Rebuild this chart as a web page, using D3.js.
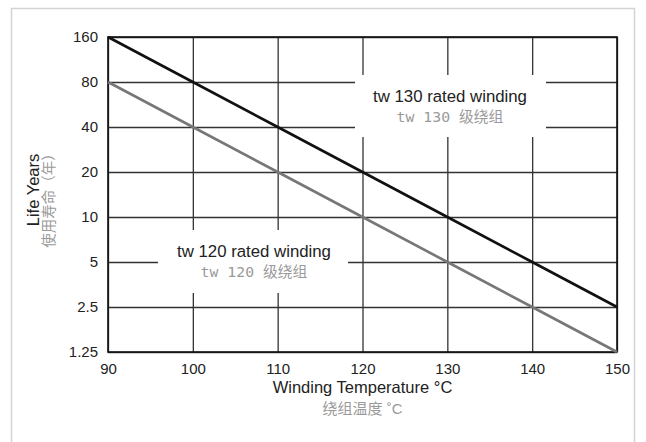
<!DOCTYPE html>
<html><head><meta charset="utf-8">
<script src="https://cdn.jsdelivr.net/npm/d3@7"></script>
<style>
html,body{margin:0;padding:0;background:#fff;}
svg{display:block;}
</style></head>
<body>
<svg id="chart" width="646" height="442"></svg>
<script>
// ---- data ----
const temperatures = [90, 100, 110, 120, 130, 140, 150];
const lifeTicks = [1.25, 2.5, 5, 10, 20, 40, 80, 160];
const lifeTickLabels = ["1.25", "2.5", "5", "10", "20", "40", "80", "160"];
const life130 = [160, 80, 40, 20, 10, 5, 2.5];
const life120 = [80, 40, 20, 10, 5, 2.5, 1.25];
const seriesNames = ["tw 130 rated winding", "tw 120 rated winding"];
const seriesNamesZh = ["tw 130 级绕组", "tw 120 级绕组"];
const xTitle = "Winding Temperature °C";
const xTitleZh = "绕组温度 ˚C";
const yTitle = "Life Years";
const yTitleZh = "使用寿命（年）";

const svg = d3.select("#chart");
const plot = {left: 108, right: 617, top: 37, bottom: 352};

const x = d3.scaleLinear().domain([90, 150]).range([plot.left, plot.right]);
const y = d3.scaleLog().base(2).domain([1.25, 160]).range([plot.bottom, plot.top]);

const sans = "'Liberation Sans', Arial, Helvetica, sans-serif";
const zh = "'DejaVu Sans Mono', 'Noto Sans CJK SC', monospace";
const zhSans = "'Liberation Sans', 'Noto Sans CJK SC', sans-serif";
const cjk = "'Noto Sans CJK SC', sans-serif";

// outer border
svg.append("rect").attr("x", 11.5).attr("y", 8.5).attr("width", 623).attr("height", 460)
  .attr("fill", "#fff").attr("stroke", "#d4d4d4").attr("stroke-width", 1.5);

// grid via axes
const gx = svg.append("g").attr("transform", `translate(0,${plot.bottom})`)
  .call(d3.axisBottom(x).tickValues(temperatures).tickSize(-(plot.bottom - plot.top)).tickPadding(10).tickFormat(d3.format("d")));
gx.select(".domain").remove();
gx.selectAll(".tick line").attr("stroke", "#333").attr("stroke-width", 1.3);
gx.selectAll(".tick text").attr("font-family", sans).attr("font-size", 15).attr("fill", "#222").attr("dy", "0.8em");

const gy = svg.append("g").attr("transform", `translate(${plot.left},0)`)
  .call(d3.axisLeft(y).tickValues(lifeTicks).tickSize(-(plot.right - plot.left)).tickPadding(10)
    .tickFormat((d, i) => lifeTickLabels[i]));
gy.select(".domain").remove();
gy.selectAll(".tick line").attr("stroke", "#333").attr("stroke-width", 1.3);
gy.selectAll(".tick text").attr("font-family", sans).attr("font-size", 15).attr("fill", "#222");

// white label boxes (mask gridlines)
svg.append("rect").attr("x", 355).attr("y", 75).attr("width", 191).attr("height", 62).attr("fill", "#fff");
svg.append("rect").attr("x", 158).attr("y", 230).attr("width", 190).attr("height", 63).attr("fill", "#fff");

// plot frame
svg.append("rect").attr("x", plot.left).attr("y", plot.top)
  .attr("width", plot.right - plot.left).attr("height", plot.bottom - plot.top)
  .attr("fill", "none").attr("stroke", "#111").attr("stroke-width", 1.6);

// series lines
const line = d3.line().x(d => x(d[0])).y(d => y(d[1]));
svg.append("path").datum(temperatures.map((t, i) => [t, life120[i]]))
  .attr("d", line).attr("fill", "none").attr("stroke", "#777").attr("stroke-width", 2.6);
svg.append("path").datum(temperatures.map((t, i) => [t, life130[i]]))
  .attr("d", line).attr("fill", "none").attr("stroke", "#111").attr("stroke-width", 2.6);

// series labels
function label(cx, by, en, zhTxt) {
  svg.append("text").attr("x", cx).attr("y", by).attr("text-anchor", "middle")
    .attr("font-family", sans).attr("font-size", 16.8).attr("fill", "#222").text(en);
  svg.append("text").attr("x", cx).attr("y", by + 20).attr("text-anchor", "middle")
    .attr("font-family", zh).attr("font-size", 14.8).attr("fill", "#9a9a9a").text(zhTxt);
}
label(450, 102, seriesNames[0], seriesNamesZh[0]);
label(254, 257, seriesNames[1], seriesNamesZh[1]);

// axis titles
const xc = (plot.left + plot.right) / 2;
svg.append("text").attr("x", xc).attr("y", 393).attr("text-anchor", "middle")
  .attr("font-family", sans).attr("font-size", 16.5).attr("fill", "#222").text(xTitle);
svg.append("text").attr("x", xc).attr("y", 414).attr("text-anchor", "middle")
  .attr("font-family", zhSans).attr("font-size", 15).attr("fill", "#9a9a9a").text(xTitleZh);

svg.append("text").attr("transform", `translate(39,190) rotate(-90)`).attr("text-anchor", "middle")
  .attr("font-family", sans).attr("font-size", 16.5).attr("fill", "#222").text(yTitle);
svg.append("text").attr("transform", `translate(54,197) rotate(-90)`).attr("text-anchor", "middle")
  .attr("font-family", cjk).attr("font-size", 14.5).attr("fill", "#9a9a9a").text(yTitleZh);
</script>
</body></html>
